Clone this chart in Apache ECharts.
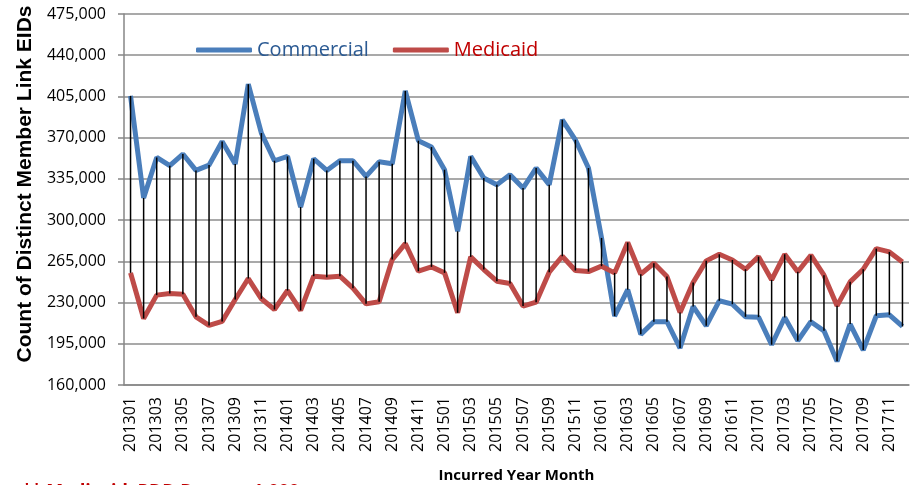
<!DOCTYPE html>
<html>
<head>
<meta charset="utf-8">
<script src="https://cdn.jsdelivr.net/npm/echarts@6/dist/echarts.min.js"></script>
<style>
  html, body { margin: 0; padding: 0; background: #fff; }
  #main { width: 910px; height: 485px; }
</style>
</head>
<body>
<div id="main"></div>
<script>
    // incurred year month, 201301 - 201712
    var months = [];
    for (var y = 2013; y <= 2017; y++) {
        for (var m = 1; m <= 12; m++) {
            months.push(String(y) + (m < 10 ? '0' + m : m));
        }
    }

    var commercial = [
        405500, 318800, 353200, 346200, 356100, 342200, 346700, 366800, 347600, 415400,
        373900, 350400, 354100, 311100, 352100, 342200, 350400, 350400, 337100, 349500,
        347900, 409700, 367400, 362000, 342800, 290500, 354100, 335700, 330100, 338500,
        327200, 344200, 330100, 385200, 368200, 344200, 284900, 218500, 241000, 203000,
        213700, 213700, 191400, 226700, 210300, 231500, 228600, 217900, 217600, 194200,
        217300, 197600, 213700, 206000, 180100, 211700, 189700, 218800, 219600, 209700
    ];

    var medicaid = [
        255200, 216500, 236300, 237700, 237100, 217900, 210600, 214000, 232600, 250400,
        233200, 224100, 240200, 223300, 252400, 251500, 252400, 242200, 228900, 230700,
        266500, 280100, 256600, 260300, 255200, 221300, 268800, 258000, 248100, 246200,
        227000, 230300, 255800, 269300, 257200, 256300, 260900, 255200, 281000, 254100,
        263400, 252100, 221600, 247000, 265400, 271000, 266200, 258300, 269000, 249300,
        271000, 256100, 270200, 253200, 227200, 247600, 258300, 275800, 273000, 264500
    ];

    var spread = [];
    for (let i = 0; i < months.length; i++) {
        spread.push([i, commercial[i], medicaid[i]]);
    }

    var chart = echarts.init(document.getElementById('main'));
    chart.setOption({
        animation: false,
        grid: {
            left: 124,
            right: 1,
            top: 14,
            bottom: 100,
            outerBoundsMode: 'none'
        },
        legend: {
            left: 191,
            top: 35,
            itemWidth: 56,
            itemHeight: 5,
            itemGap: 24,
            icon: 'roundRect',
            textStyle: {
                fontFamily: 'Open Sans',
                fontSize: 20
            },
            data: [
                { name: 'Commercial', textStyle: { color: '#2B5A93' } },
                { name: 'Medicaid', textStyle: { color: '#C00000' } }
            ]
        },
        graphic: [{
            type: 'text',
            x: 25,
            y: 184,
            rotation: Math.PI / 2,
            style: {
                text: 'Count of Distinct Member Link EIDs',
                font: 'bold 21px "Liberation Sans"',
                fill: '#000',
                align: 'center',
                verticalAlign: 'middle'
            }
        }, {
            type: 'text',
            x: 22,
            y: 483,
            style: {
                text: '** Medicaid: PDD Data >= 1,000',
                font: 'bold 18px "Open Sans"',
                fill: '#C00000',
                align: 'left',
                verticalAlign: 'top'
            }
        }],
        xAxis: {
            type: 'category',
            data: months,
            boundaryGap: true,
            name: 'Incurred Year Month',
            nameLocation: 'middle',
            nameGap: 83,
            nameTextStyle: {
                fontFamily: 'Open Sans',
                fontWeight: 'bold',
                fontSize: 15,
                color: '#000'
            },
            axisLine: { lineStyle: { color: '#868686', width: 1.5 } },
            axisTick: { show: false },
            axisLabel: {
                interval: 1,
                rotate: 90,
                margin: 12,
                fontFamily: 'Open Sans',
                fontSize: 16,
                color: '#000'
            }
        },
        yAxis: {
            type: 'value',
            min: 160000,
            max: 475000,
            interval: 35000,
            axisLine: { show: true, lineStyle: { color: '#868686', width: 1.5 } },
            axisTick: { show: true, length: 6, lineStyle: { color: '#868686', width: 1.5 } },
            splitLine: { lineStyle: { color: '#8C8C8C', width: 1.5 } },
            axisLabel: {
                margin: 18,
                fontFamily: 'Open Sans',
                fontSize: 16,
                color: '#000',
                formatter: function (v) {
                    return v.toLocaleString('en-US');
                }
            }
        },
        series: [{
            name: 'Commercial',
            type: 'line',
            data: commercial,
            color: '#4A7EBB',
            showSymbol: false,
            lineStyle: { width: 5, color: '#4A7EBB' },
            z: 3
        }, {
            name: 'Medicaid',
            type: 'line',
            data: medicaid,
            color: '#BE4B48',
            showSymbol: false,
            lineStyle: { width: 5, color: '#BE4B48' },
            z: 3
        }, {
            name: 'spread',
            type: 'custom',
            data: spread,
            z: 4,
            renderItem: function (params, api) {
                var p1 = api.coord([api.value(0), api.value(1)]);
                var p2 = api.coord([api.value(0), api.value(2)]);
                return {
                    type: 'line',
                    shape: { x1: p1[0], y1: p1[1], x2: p2[0], y2: p2[1] },
                    style: { stroke: '#000', lineWidth: 1.5 }
                };
            }
        }]
    });
</script>
</body>
</html>
